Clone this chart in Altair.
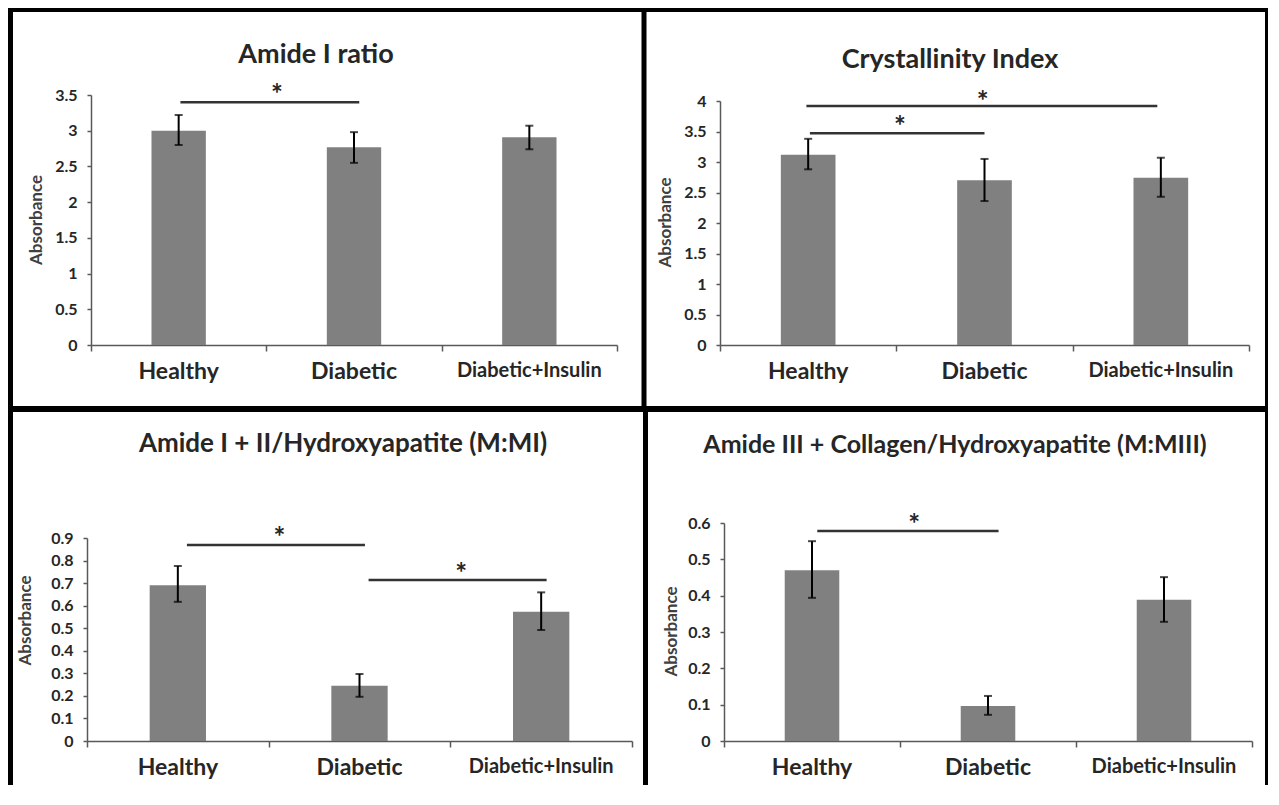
import altair as alt
import pandas as pd

FONT = "Lato"

categories = ["Healthy", "Diabetic", "Diabetic+Insulin"]
category_slots = [0, 1, 2, 3]  # category boundaries (slot units) for the x-axis ticks

# ---- Panel 1: Amide I ratio ----
amide_title = "Amide I ratio"
amide_mean = [3.00, 2.77, 2.91]
amide_low = [2.80, 2.55, 2.74]
amide_high = [3.22, 2.98, 3.07]
amide_ticks = [0, 0.5, 1, 1.5, 2, 2.5, 3, 3.5]
amide_sig_from = [0.51]
amide_sig_to = [1.53]
amide_sig_level = [3.40]
amide_star_pos = [1.06]
amide_star_level = [3.60]

# ---- Panel 2: Crystallinity Index ----
cryst_title = "Crystallinity Index"
cryst_mean = [3.12, 2.70, 2.74]
cryst_low = [2.88, 2.36, 2.43]
cryst_high = [3.38, 3.05, 3.07]
cryst_ticks = [0, 0.5, 1, 1.5, 2, 2.5, 3, 3.5, 4]
cryst_sig_from = [0.49, 0.51]
cryst_sig_to = [2.48, 1.50]
cryst_sig_level = [3.92, 3.47]
cryst_star_pos = [1.49, 1.02]
cryst_star_level = [4.10, 3.69]

# ---- Panel 3: M:MI ----
mmi_title = "Amide I + II/Hydroxyapatite (M:MI)"
mmi_mean = [0.691, 0.245, 0.573]
mmi_low = [0.617, 0.196, 0.492]
mmi_high = [0.776, 0.297, 0.659]
mmi_ticks = [0, 0.1, 0.2, 0.3, 0.4, 0.5, 0.6, 0.7, 0.8, 0.9]
mmi_sig_from = [0.55, 1.55]
mmi_sig_to = [1.53, 2.53]
mmi_sig_level = [0.869, 0.714]
mmi_star_pos = [1.06, 2.06]
mmi_star_level = [0.932, 0.773]

# ---- Panel 4: M:MIII ----
mmiii_title = "Amide III + Collagen/Hydroxyapatite (M:MIII)"
mmiii_mean = [0.470, 0.096, 0.389]
mmiii_low = [0.394, 0.072, 0.328]
mmiii_high = [0.550, 0.124, 0.451]
mmiii_ticks = [0, 0.1, 0.2, 0.3, 0.4, 0.5, 0.6]
mmiii_sig_from = [0.53]
mmiii_sig_to = [1.56]
mmiii_sig_level = [0.578]
mmiii_star_pos = [1.08]
mmiii_star_level = [0.615]

AXIS_GRAY = "#595959"
TEXT_DARK = "#262626"


def frame_rect(x1, y1, x2, y2):
    return alt.Chart(alt.Data(values=[{"k": 0}])).mark_rect(
        color="black", strokeWidth=0
    ).encode(x=alt.value(x1), x2=alt.value(x2), y=alt.value(y1), y2=alt.value(y2))


def make_panel(title, title_xy, title_size, means, lows, highs, ticks, sig_from, sig_to,
               sig_level, star_pos, star_level, width, height, x_range,
               y_range, ytitle_xy, frames=()):
    df = pd.DataFrame({"group": categories, "mean": means, "low": lows, "high": highs})
    x_band = alt.X(
        "group:N", sort=categories, title=None,
        scale=alt.Scale(type="band", range=x_range, paddingInner=0.69, paddingOuter=0.345),
        axis=alt.Axis(
            labelAngle=0, labelFontWeight="bold", labelColor=TEXT_DARK,
            labelFontSize={"condition": {"test": "datum.value === 'Diabetic+Insulin'", "value": 20}, "value": 23},
            labelPadding=15, ticks=False, tickSize=0,
            domainColor=AXIS_GRAY, domainWidth=1.5, grid=False, orient="bottom",
        ),
    )
    yscale = alt.Scale(domain=[ticks[0], ticks[-1]], range=y_range, nice=False)
    yaxis = alt.Axis(
        values=ticks, format="~g", title="Absorbance", grid=False,
        titleFontSize=17, titleFontWeight="bold", titleColor="#404040",
        titleX=ytitle_xy[0], titleY=ytitle_xy[1],
        labelFontSize=16, labelFontWeight="bold", labelColor=TEXT_DARK,
        labelPadding=10, tickSize=4, tickColor=AXIS_GRAY, tickWidth=1.5,
        domainColor=AXIS_GRAY, domainWidth=1.5, offset=-x_range[0],
    )

    def ych(field):
        return alt.Y(field, type="quantitative", scale=yscale, axis=yaxis)

    base = alt.Chart(df)
    bars = base.mark_bar(color="#808080").encode(x=x_band, y=ych("mean"))
    err = base.mark_rule(color="black", strokeWidth=2).encode(
        x=x_band, y=ych("low"), y2="high:Q")
    cap_lo = base.mark_tick(color="black", thickness=2, size=8).encode(x=x_band, y=ych("low"))
    cap_hi = base.mark_tick(color="black", thickness=2, size=8).encode(x=x_band, y=ych("high"))
    inner = alt.layer(bars, err, cap_lo, cap_hi)

    xq_scale = alt.Scale(domain=[0, 3], range=x_range, nice=False, zero=False)
    slot_axis = alt.Axis(
        values=category_slots, labels=False, ticks=True, tickSize=6, tickWidth=1.5,
        tickColor=AXIS_GRAY, domain=False, grid=False, title=None, orient="bottom",
    )
    sig_df = pd.DataFrame({"start": sig_from, "end": sig_to, "level": sig_level})
    star_df = pd.DataFrame({"pos": star_pos, "level": star_level})
    sig = alt.Chart(sig_df).mark_rule(color="#333333", strokeWidth=2.5).encode(
        x=alt.X("start:Q", scale=xq_scale, axis=slot_axis), x2="end:Q", y=ych("level"))
    stars = alt.Chart(star_df).mark_text(
        text="*", fontSize=28, fontWeight="bold", color=TEXT_DARK,
        baseline="alphabetic", dy=16, font=FONT,
    ).encode(x=alt.X("pos:Q", scale=xq_scale, axis=slot_axis), y=ych("level"))
    sigl = alt.layer(sig, stars)

    ttl = alt.Chart(alt.Data(values=[{"k": 0}])).mark_text(
        fontSize=title_size, fontWeight="bold", color=TEXT_DARK, align="center",
        baseline="alphabetic", font=FONT,
    ).encode(x=alt.value(title_xy[0]), y=alt.value(title_xy[1]), text=alt.value(title))

    layers = [inner, sigl, ttl] + [frame_rect(*f) for f in frames]
    return alt.layer(*layers).resolve_scale(x="independent").properties(
        width=width, height=height)


# frame bars (pixels relative to panel 1 plot origin)
FRAMES = [
    (-79, -87, -74, 690),      # left
    (-79, -87, 1181, -83),     # top
    (-79, 311, 1181, 317),     # middle horizontal
    (554.5, -87, 559.5, 311),  # upper divider
    (556, 311, 561, 690),      # lower divider
    (1178, -87, 1181, 690),    # right
]

p1 = make_panel(amide_title, (229, -32), 27, amide_mean, amide_low, amide_high, amide_ticks,
                amide_sig_from, amide_sig_to, amide_sig_level, amide_star_pos, amide_star_level,
                545, 250, [4, 530], [250, 0], (-46, 124.5), FRAMES)
p2 = make_panel(cryst_title, (230, -27), 27, cryst_mean, cryst_low, cryst_high, cryst_ticks,
                cryst_sig_from, cryst_sig_to, cryst_sig_level, cryst_star_pos, cryst_star_level,
                532, 250, [0, 529], [250, 6], (-45.5, 127))
p3 = make_panel(mmi_title, (256, -70), 26, mmi_mean, mmi_low, mmi_high, mmi_ticks,
                mmi_sig_from, mmi_sig_to, mmi_sig_level, mmi_star_pos, mmi_star_level,
                545, 219, [0, 545], [219, 16], (-52.5, 98))
p4 = make_panel(mmiii_title, (235, -69), 25, mmiii_mean, mmiii_low, mmiii_high, mmiii_ticks,
                mmiii_sig_from, mmiii_sig_to, mmiii_sig_level, mmiii_star_pos, mmiii_star_level,
                532, 219, [4, 532], [219, 1], (-44, 109))

chart = alt.concat(
    p1, p2, p3, p4, columns=2, spacing={"row": 177, "column": 88}, bounds="flush"
).properties(padding=0).configure(font=FONT).configure_view(stroke=None)

chart.save("out.html", embed_options={"renderer": "svg", "actions": False})
